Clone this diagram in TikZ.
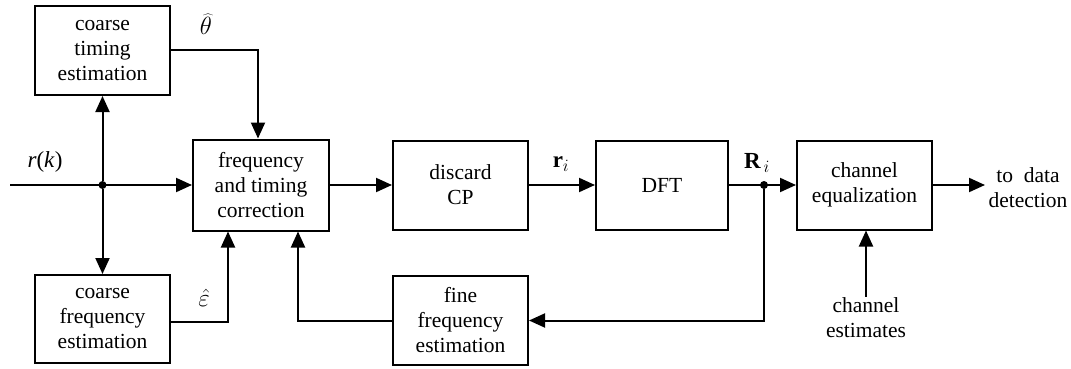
\documentclass[tikz,border=0pt]{standalone}
\usepackage{fontspec}
\setmainfont{Liberation Serif}
\usetikzlibrary{arrows.meta}
\tikzset{
  blk/.style={draw, line width=2pt, align=center, inner sep=0pt,
    font=\fontsize{21.5}{25}\selectfont},
  lbl/.style={font=\fontsize{23}{27}\selectfont, inner sep=0pt},
  glbl/.style={font=\fontsize{26}{30}\selectfont, inner sep=0pt},
  txt/.style={align=center, inner sep=1pt, font=\fontsize{21.5}{25}\selectfont},
  arr/.style={line width=2pt, -{Triangle[length=16pt,width=14pt]}},
  dot/.style={circle, fill, inner sep=0pt, minimum size=8pt}
}
\begin{document}
\begin{tikzpicture}[x=1pt,y=-1pt]
\useasboundingbox (0,0) rectangle (1071,369);
\node[blk, minimum width=135pt, minimum height=89pt] (cte) at (102.5,50.5) {coarse\\timing\\estimation};
\node[blk, minimum width=135pt, minimum height=88pt] (cfe) at (102.5,319) {coarse\\frequency\\estimation};
\node[blk, minimum width=136pt, minimum height=91pt] (ftc) at (261,185) {frequency\\and timing\\correction};
\node[blk, minimum width=135pt, minimum height=89pt] (dcp) at (460.5,185) {discard\\CP};
\node[blk, minimum width=132pt, minimum height=89pt] (dft) at (662,185) {DFT};
\node[blk, minimum width=135pt, minimum height=89pt] (ceq) at (864.5,185) {channel\\equalization};
\node[blk, minimum width=135pt, minimum height=89pt] (ffe) at (460.5,320.5) {fine\\frequency\\estimation};
\node[txt] (ce) at (866,318) {channel\\estimates};
\node[txt] (tdd) at (1028,188) {to \ data\\detection};
\coordinate (in) at (10,185);
\node[dot] (j1) at (102.5,185) {};
\node[dot] (j2) at (764,185) {};
\coordinate (out) at (985,185);
\node[lbl] (lr) at (45,162) {\textit{r}(\textit{k})};
\node[glbl] (lth) at (206,24) {$\widehat{\theta}$};
\node[glbl] (lep) at (204,298) {$\hat{\varepsilon}$};
\node[lbl] (lri) at (561,164) {$\mathbf{r}_i$};
\node[lbl] (lRi) at (757,163) {$\mathbf{R}_{\,i}$};
\draw[arr] (in) -- (ftc.west);
\draw[arr] (j1) -- (cte.south);
\draw[arr] (j1) -- (cfe.north);
\draw[arr] (cte.east |- 0,50) -| ([xshift=-3pt]ftc.north);
\draw[arr] (cfe.east |- 0,322) -| ([xshift=-33pt]ftc.south);
\draw[arr] (ftc.east) -- (dcp.west);
\draw[arr] (dcp.east) -- (dft.west);
\draw[arr] (dft.east) -- (ceq.west);
\draw[arr] (ceq.east) -- (out);
\draw[arr] (ce.north) -- (ceq.south -| ce.north);
\draw[arr] (j2) |- (ffe.east);
\draw[arr] (ffe.west) -| ([xshift=37pt]ftc.south);
\end{tikzpicture}
\end{document}
